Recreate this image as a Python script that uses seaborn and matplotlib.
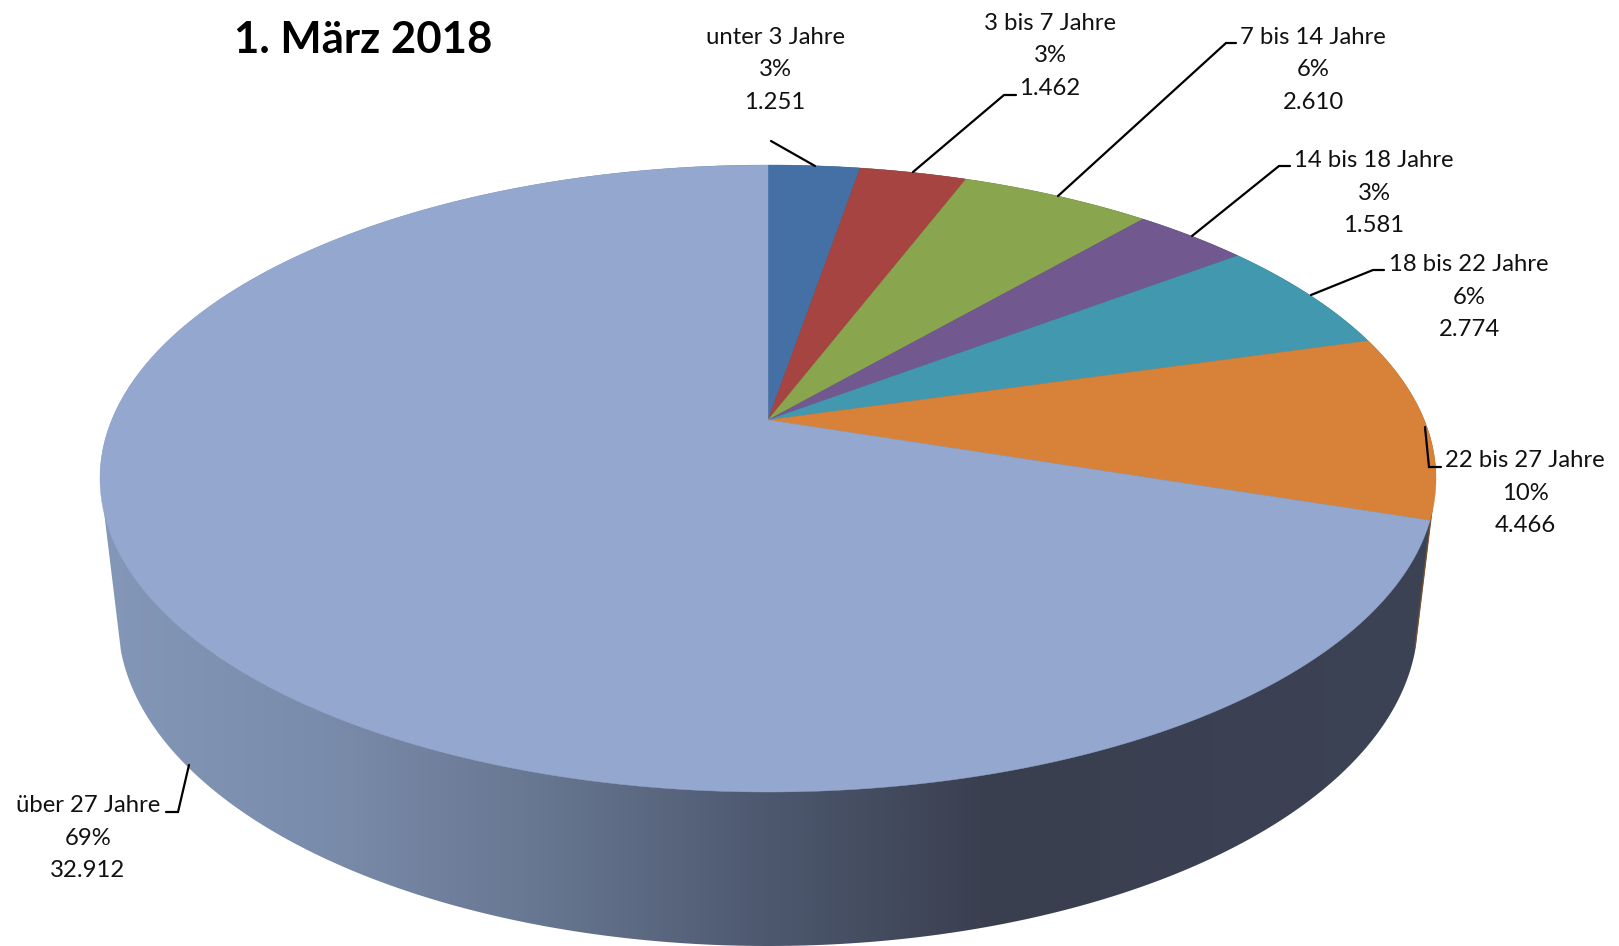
import numpy as np
import matplotlib
matplotlib.use("Agg")
import matplotlib.pyplot as plt
from matplotlib.patches import Polygon
import seaborn as sns

# Kinder- und Altersgruppen zum Stichtag
title = "1. März 2018"
categories = ["unter 3 Jahre", "3 bis 7 Jahre", "7 bis 14 Jahre", "14 bis 18 Jahre",
              "18 bis 22 Jahre", "22 bis 27 Jahre", "über 27 Jahre"]
percents = ["3%", "3%", "6%", "3%", "6%", "10%", "69%"]
values = [1251, 1462, 2610, 1581, 2774, 4466, 32912]
value_labels = ["1.251", "1.462", "2.610", "1.581", "2.774", "4.466", "32.912"]
colors = ["#4470a5", "#a54441", "#89a54e", "#71588f", "#4198af", "#d88239", "#93a7cf"]

# Layout in pixels of the 1619x946 canvas
top_cx, top_cy, top_a, top_b = 768.0, 478.5, 668.0, 313.5
bot_cx, bot_cy, bot_a, bot_b = 768.0, 620.0, 650.0, 326.0
apex_shift = 0.1866  # vanishing-point offset of the pie centre inside the top ellipse

label_centres = [(775, 70), (1050, 56), (1313, 70), (1374, 193),
                 (1469, 297), (1525, 493), (88, 838)]
line_step = 32.7
leaders = [
    [(771, 141), (815, 166)],
    [(913, 172), (1004, 95), (1016, 95)],
    [(1058, 196), (1226, 43), (1236, 43)],
    [(1192, 236), (1279, 166), (1290, 166)],
    [(1311, 295), (1373, 270), (1384, 270)],
    [(1425, 427), (1429, 467), (1441, 467)],
    [(189, 765), (178, 812), (166, 812)],
]

sns.set_theme(style="white")
plt.rcParams["font.family"] = ["Lato", "DejaVu Sans"]

fig = plt.figure(figsize=(16.19, 9.46), dpi=100, facecolor="white")
ax = fig.add_axes([0, 0, 1, 1])
ax.set_xlim(0, 1619)
ax.set_ylim(946, 0)
ax.axis("off")


def project(x, y):
    """Perspective map of the unit disk onto the tilted top face."""
    c = apex_shift
    d = 1 + c * y
    px = x * np.sqrt(1 - c ** 2) / d
    py = (y + c) / d
    return top_cx + top_a * px, top_cy - top_b * py


# Side wall: hull of both rims, filled with a horizontal shading ramp.
# The lower rim starts slightly below its widest point so the straight
# flanks meet it without a kink.
t = np.linspace(0.095, np.pi - 0.095, 240)
lower_x = bot_cx - bot_a * np.cos(t)
lower_y = bot_cy + bot_b * np.sin(t)
upper_t = np.linspace(np.pi, 2 * np.pi, 240)
upper_x = top_cx - top_a * np.cos(upper_t)
upper_y = top_cy + top_b * np.sin(upper_t)
hull = np.column_stack([np.r_[lower_x, upper_x], np.r_[lower_y, upper_y]])

wall_cmap = sns.blend_palette(
    ["#8397b8", "#7a8cab", "#677690", "#4d586f", "#3a3f4f", "#3b4152", "#3c4354"],
    n_colors=256, as_cmap=True)
ramp = np.linspace(0, 1, 512).reshape(1, -1)
im = ax.imshow(ramp, cmap=wall_cmap, extent=(100, 1436, 946, 165),
               aspect="auto", interpolation="bilinear", zorder=1)
im.set_clip_path(Polygon(hull, closed=True, transform=ax.transData))
ax.set_xlim(0, 1619)
ax.set_ylim(946, 0)

# Thin visible edge of the neighbouring slice along the right wall
ax.plot([1433.4, 1415], [498, 648], color="#7a5230", lw=1.0, zorder=2)

# Top face, one wedge per value, clockwise from twelve o'clock
edges = np.r_[0, np.cumsum(values)] / np.sum(values) * 2 * np.pi
for start, end, color in zip(edges[:-1], edges[1:], colors):
    theta = np.linspace(start, end, 400)
    px, py = project(np.sin(theta), np.cos(theta))
    cx, cy = project(0.0, 0.0)
    ax.fill(np.r_[cx, px], np.r_[cy, py], facecolor=color, edgecolor=color,
            lw=0.3, zorder=3)

# Data labels with leader lines
for name, pct, val, (x, y), pts in zip(categories, percents, value_labels,
                                       label_centres, leaders):
    for k, line in enumerate([name, pct, val]):
        ax.text(x, y + (k - 1) * line_step, line, ha="center", va="center",
                fontsize=17.2, color="#111111", zorder=5)
    lx, ly = zip(*pts)
    ax.plot(lx, ly, color="black", lw=1.6, solid_joinstyle="miter", zorder=4)

ax.text(363, 40, title, ha="center", va="center", fontsize=31.5,
        fontweight="bold", color="black", zorder=5)

fig.savefig("out.png", dpi=100, facecolor="white")
